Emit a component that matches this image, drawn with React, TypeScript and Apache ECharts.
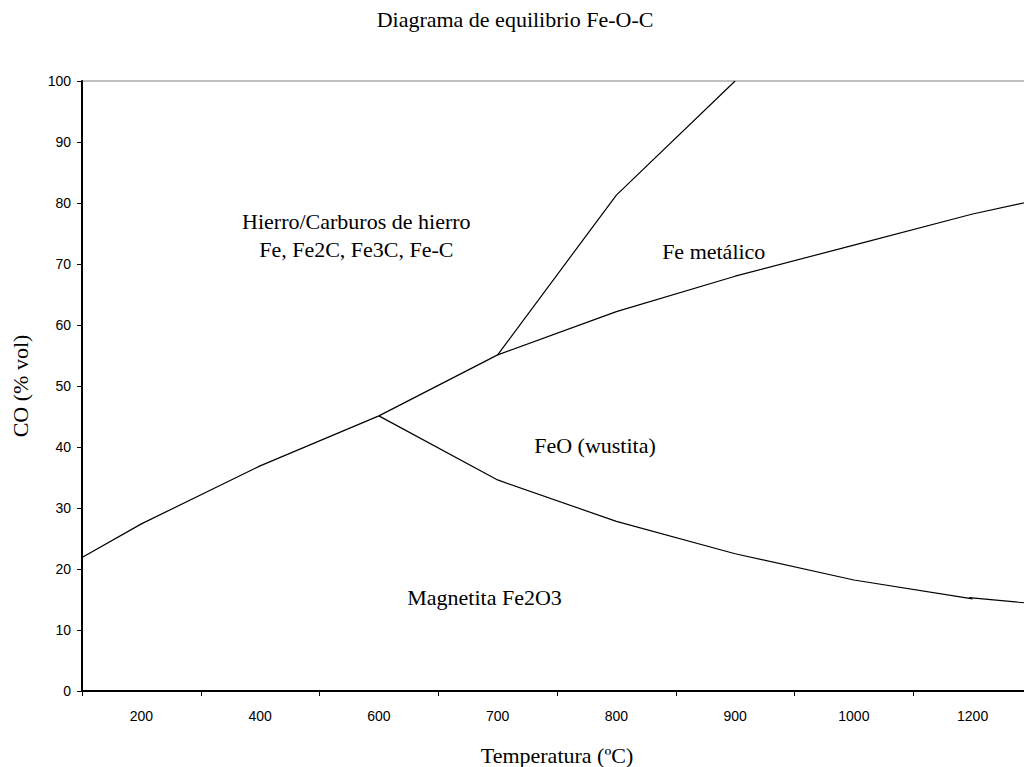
import React, { useEffect, useRef } from "react";
import * as echarts from "echarts";

// Category labels of the temperature axis (equally spaced, as in the source sheet)
const temperatures = ["200", "400", "600", "700", "800", "900", "1000", "1200"];

// CO (% vol) boundaries, one value per temperature category (null = no point)
const boundaryMain = [27.4, 36.9, 45.1, 55.1, 62.2, 68.0, 73.1, 78.2];
const boundaryMainLeftEdge = 21.9;
const boundaryMainRightEdge = 80.3;

const boundaryUpper = [null, null, null, 55.1, 81.3, 100, null, null];
const boundaryLower = [null, null, 45.1, 34.6, 27.8, 22.5, 18.2, 15.1];

// Short extra segment at the right end of the lower boundary
const tailX = [7.47, 8];
const tailY = [15.3, 14.35];

// Region labels (position in category units, CO %)
const regionNames = [
  "Hierro/Carburos de hierro\nFe, Fe2C, Fe3C, Fe-C",
  "Fe metálico",
  "FeO (wustita)",
  "Magnetita Fe2O3",
];
const regionX = [2.31, 5.32, 4.32, 3.39];
const regionY = [74.6, 72.1, 40.3, 15.4];

const yTicks = { min: 0, max: 100, interval: 10 };

const SERIF = "'Liberation Serif', 'Times New Roman', serif";
const SANS = "'Liberation Sans', Arial, sans-serif";

function toPairs(values: (number | null)[]) {
  const out: [number, number][] = [];
  values.forEach((v, i) => {
    if (v !== null) out.push([i + 0.5, v]);
  });
  return out;
}

export default function App() {
  const ref = useRef<HTMLDivElement>(null);

  useEffect(() => {
    if (!ref.current) return;
    const chart = echarts.init(ref.current, null, { renderer: "svg" });
    const n = temperatures.length;

    const mainData: [number, number][] = [
      [0, boundaryMainLeftEdge],
      ...toPairs(boundaryMain),
      [n, boundaryMainRightEdge],
    ];
    const upperData = toPairs(boundaryUpper);
    const lowerData = toPairs(boundaryLower);
    const tailData = tailX.map((x, i) => [x, tailY[i]]);

    const lineStyle = { color: "#000", width: 1.2 };
    const lineSeries = (name: string, data: any[]) => ({
      name,
      type: "line",
      xAxisIndex: 1,
      yAxisIndex: 0,
      data,
      symbol: "none",
      lineStyle,
      silent: true,
    });

    chart.setOption({
      animation: false,
      backgroundColor: "#fff",
      title: {
        text: "Diagrama de equilibrio Fe-O-C",
        left: 515,
        textAlign: "center",
        top: 8,
        padding: 0,
        textStyle: {
          fontFamily: SERIF,
          fontSize: 22,
          fontWeight: "normal",
          color: "#000",
        },
      },
      grid: {
        left: 82,
        right: -8,
        top: 81,
        bottom: 76,
        containLabel: false,
        outerBoundsMode: "none",
        show: true,
        borderColor: "#808080",
        borderWidth: 1,
        backgroundColor: "transparent",
      },
      xAxis: [
        {
          type: "category",
          data: temperatures,
          boundaryGap: true,
          name: "Temperatura (ºC)",
          nameLocation: "middle",
          nameGap: 53,
          nameTextStyle: { fontFamily: SERIF, fontSize: 22, color: "#000" },
          axisLine: { show: true, lineStyle: { color: "#000", width: 2 } },
          axisTick: {
            show: true,
            length: 5,
            inside: false,
            alignWithLabel: false,
            lineStyle: { color: "#000", width: 1 },
          },
          axisLabel: {
            fontFamily: SANS,
            fontSize: 14,
            color: "#000",
            margin: 18,
            interval: 0,
          },
          splitLine: { show: false },
        },
        {
          type: "value",
          min: 0,
          max: n,
          show: false,
          splitLine: { show: false },
        },
      ],
      yAxis: {
        type: "value",
        min: yTicks.min,
        max: yTicks.max,
        interval: yTicks.interval,
        name: "CO (% vol)",
        nameLocation: "middle",
        nameGap: 51,
        nameTextStyle: { fontFamily: SERIF, fontSize: 22, color: "#000" },
        axisLine: { show: true, lineStyle: { color: "#000", width: 2 } },
        axisTick: {
          show: true,
          length: 5,
          inside: false,
          lineStyle: { color: "#000", width: 1 },
        },
        axisLabel: {
          fontFamily: SANS,
          fontSize: 14,
          color: "#000",
          margin: 11,
        },
        splitLine: { show: false },
      },
      series: [
        lineSeries("Límite Fe3O4/FeO - Fe", mainData),
        lineSeries("Límite Fe - FeO", upperData),
        lineSeries("Límite Fe3O4 - FeO", lowerData),
        lineSeries("Límite Fe3O4 - FeO (extremo)", tailData),
      ],
    });

    // Region labels placed through the chart's own scales
    const graphics = regionNames.map((text, i) => {
      const [px, py] = chart.convertToPixel(
        { xAxisIndex: 1, yAxisIndex: 0 },
        [regionX[i], regionY[i]]
      ) as number[];
      return {
        type: "text",
        x: px,
        y: py,
        silent: true,
        style: {
          text,
          fill: "#000",
          fontFamily: SERIF,
          fontSize: 22,
          lineHeight: 28,
          align: "center",
          verticalAlign: "middle",
        },
      };
    });
    chart.setOption({ graphic: graphics });

    return () => chart.dispose();
  }, []);

  return (
    <div
      ref={ref}
      style={{
        position: "absolute",
        left: 0,
        top: 0,
        width: 1024,
        height: 767,
        background: "#fff",
      }}
    />
  );
}
